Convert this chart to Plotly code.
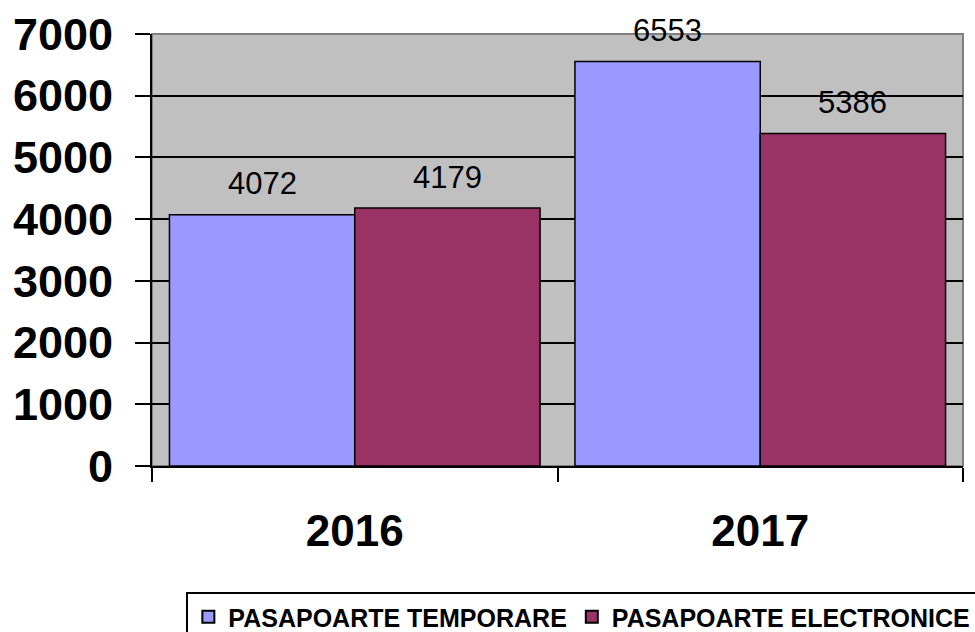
import plotly.graph_objects as go

years = ["2016", "2017"]
temporare = [4072, 6553]
electronice = [4179, 5386]
series_names = ["PASAPOARTE TEMPORARE", "PASAPOARTE ELECTRONICE"]
y_ticks = [0, 1000, 2000, 3000, 4000, 5000, 6000, 7000]

FONT = "Liberation Sans, Arial, sans-serif"

fig = go.Figure()
fig.add_trace(go.Bar(x=years, y=temporare, name=series_names[0],
                     marker=dict(color="#9999FF", line=dict(color="black", width=1.5))))
fig.add_trace(go.Bar(x=years, y=electronice, name=series_names[1],
                     marker=dict(color="#993366", line=dict(color="black", width=1.5))))

# data labels
for i, yr in enumerate(years):
    for off, vals in ((-0.2285, temporare), (0.2285, electronice)):
        fig.add_annotation(x=i + off, y=vals[i], text=str(vals[i]), showarrow=False,
                           xref="x", yref="y", yanchor="middle", yshift=31,
                           font=dict(family=FONT, size=31, color="black"))

# gray border top/right
fig.add_shape(type="rect", xref="paper", yref="paper", x0=0, x1=1, y0=0, y1=1,
              line=dict(color="#808080", width=2), layer="below")

fig.update_layout(
    width=975, height=632,
    margin=dict(l=152, r=12, t=34, b=166, autoexpand=False),
    paper_bgcolor="white", plot_bgcolor="#C0C0C0",
    barmode="group", bargap=0.086, bargroupgap=0,
    font=dict(family=FONT, color="black"),
    showlegend=True,
    legend=dict(orientation="h", x=1.0177, xanchor="right", y=-0.2917, yanchor="top",
                bordercolor="black", borderwidth=2, bgcolor="white",
                font=dict(family=FONT, size=25, color="black", weight="bold"),
                itemsizing="constant", traceorder="normal"),
)
fig.update_xaxes(type="category", range=[-0.5, 1.5], showline=True, linecolor="black", linewidth=2,
                 ticks="outside", tickson="boundaries", ticklen=14, tickwidth=2, tickcolor="black",
                 showgrid=False, ticklabelstandoff=25,
                 tickfont=dict(family=FONT, size=44, color="black", weight="bold"))
fig.update_yaxes(range=[0, 7000], tickvals=y_ticks, showline=True, linecolor="black", linewidth=2,
                 ticks="outside", ticklen=15, tickwidth=2, tickcolor="black",
                 showgrid=True, gridcolor="black", gridwidth=1.5, zeroline=False,
                 ticklabelstandoff=13,
                 tickfont=dict(family=FONT, size=45, color="black", weight="bold"))

fig.write_html("out.html", config={"displayModeBar": False},
               post_script="document.body.style.margin='0';document.body.style.overflow='hidden';")
